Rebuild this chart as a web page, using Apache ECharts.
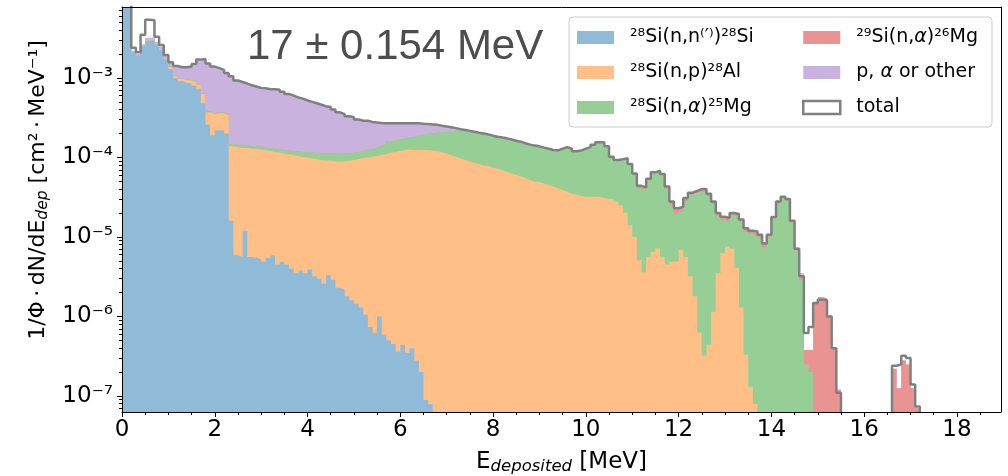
<!DOCTYPE html>
<html>
<head>
<meta charset="utf-8">
<script src="https://cdn.jsdelivr.net/npm/echarts@6/dist/echarts.min.js"></script>
<style>
  html, body { margin: 0; padding: 0; background: #fff; }
  #chart { width: 1008px; height: 476px; }
</style>
</head>
<body>
<div id="chart"></div>
<script>
// histogram bins: 0.1 MeV wide, starting at 0 MeV
const binWidth = 0.1
const nBins = 190
const xMax = 18.95
const yMin = 6.3e-8
const yMax = 7.8e-3
const xTicks = [0, 2, 4, 6, 8, 10, 12, 14, 16, 18]
const yDecades = [-7, -6, -5, -4, -3]

const seriesNames = ['²⁸Si(n,n⁽′⁾)²⁸Si', '²⁸Si(n,p)²⁸Al', '²⁸Si(n,α)²⁵Mg', '²⁹Si(n,α)²⁶Mg', 'p, α or other', 'total']

// 28Si(n,n')28Si, first bin = 0.0 MeV
const inelFrom = 0
const inel = [
  3e-2, 1e-2, 2.1e-3, 1.9e-3, 2.5e-3, 2.95e-3, 3.0e-3, 2.65e-3, 2.25e-3, 1.7e-3,
  1.3e-3, 9.9e-4, 9.1e-4, 8.7e-4, 8.5e-4, 8.0e-4, 7.2e-4, 4.8e-4, 2.6e-4, 1.9e-4,
  2.2e-4, 2.2e-4, 2.0e-4, 1.6e-5, 5.9e-6, 5.6e-6, 1.2e-5, 5.6e-6, 5.5e-6, 5.2e-6,
  4.9e-6, 5.4e-6, 5.9e-6, 4.5e-6, 4.9e-6, 4.5e-6, 4.0e-6, 3.5e-6, 3.8e-6, 3.5e-6,
  3.9e-6, 3.2e-6, 3.0e-6, 2.6e-6, 3.3e-6, 2.9e-6, 2.3e-6, 2.2e-6, 1.8e-6, 1.6e-6,
  1.45e-6, 1.3e-6, 1.05e-6, 7.4e-7, 6.2e-7, 1.0e-6, 5.9e-7, 5.0e-7, 4.5e-7, 3.6e-7,
  4.4e-7, 3.5e-7, 4.0e-7, 2.8e-7, 2.0e-7, 8.9e-8, 7.9e-8
]

// 28Si(n,p)28Al, first bin = 0.4 MeV
const npFrom = 4
const np = [
  5e-5, 1e-4, 1e-4, 8e-5, 6e-5, 5e-5,
  7e-5, 6e-5, 6e-5, 7e-5, 8e-5, 9e-5, 1.0e-4, 1.5e-4, 1.1e-4, 1.6e-4,
  1.4e-4, 1.4e-4, 1.4e-4, 1.22e-4, 1.29e-4, 1.26e-4, 1.2e-4, 1.23e-4, 1.23e-4, 1.21e-4,
  1.18e-4, 1.15e-4, 1.11e-4, 1.1e-4, 1.07e-4, 1.05e-4, 1.03e-4, 1.01e-4, 9.8e-5, 9.6e-5,
  9.4e-5, 9.2e-5, 9.0e-5, 8.9e-5, 8.8e-5, 8.7e-5, 8.7e-5, 8.7e-5, 8.9e-5, 9.1e-5,
  9.4e-5, 9.7e-5, 9.9e-5, 1.01e-4, 1.04e-4, 1.07e-4, 1.1e-4, 1.15e-4, 1.17e-4, 1.2e-4,
  1.23e-4, 1.26e-4, 1.24e-4, 1.24e-4, 1.24e-4, 1.23e-4, 1.22e-4, 1.2e-4, 1.16e-4, 1.12e-4,
  1.07e-4, 1.02e-4, 9.8e-5, 9.3e-5, 8.9e-5, 8.6e-5, 8.3e-5, 7.9e-5, 7.8e-5, 7.4e-5,
  7.2e-5, 6.9e-5, 6.6e-5, 6.3e-5, 6.0e-5, 5.8e-5, 5.5e-5, 5.2e-5, 5.0e-5, 4.9e-5,
  4.7e-5, 4.5e-5, 4.3e-5, 4.1e-5, 3.9e-5, 3.7e-5, 3.5e-5, 3.4e-5, 3.3e-5, 3.2e-5,
  3.2e-5, 3.2e-5, 3.2e-5, 3.1e-5, 3.0e-5, 3.0e-5, 2.8e-5, 2.5e-5, 2.0e-5, 1.4e-5,
  1.0e-5, 5.1e-6, 3.6e-6, 5.6e-6, 6.5e-6, 7.2e-6, 5.6e-6, 4.5e-6, 4.9e-6, 4.9e-6,
  6.9e-6, 5.6e-6, 3.2e-6, 1.8e-6, 6.3e-7, 3.2e-7, 4.4e-7, 1.15e-6, 3.5e-6, 6.3e-6,
  7.6e-6, 7.1e-6, 4.1e-6, 1.3e-6, 3.3e-7, 1.3e-7, 8e-8
]

// 28Si(n,a)25Mg, first bin = 1.0 MeV
const naFrom = 10
const na = [
  1e-5, 1e-5, 1e-5, 1e-5, 1e-5, 1e-5, 1e-5, 1e-5, 1e-5, 1e-5,
  1e-5, 1e-5, 1e-5, 1e-5, 1e-5, 1e-5, 1e-5, 1e-5, 1e-5, 1.05e-5,
  1.1e-5, 1.1e-5, 1.15e-5, 1.2e-5, 1.2e-5, 1.25e-5, 1.3e-5, 1.4e-5, 1.5e-5, 1.7e-5,
  1.8e-5, 1.9e-5, 2.0e-5, 2.1e-5, 2.2e-5, 2.2e-5, 2.2e-5, 2.2e-5, 2.2e-5, 2.2e-5,
  2.2e-5, 2.3e-5, 2.4e-5, 2.6e-5, 2.9e-5, 3.3e-5, 3.8e-5, 4.3e-5, 4.7e-5, 4.8e-5,
  4.9e-5, 5.2e-5, 5.8e-5, 6.4e-5, 7.0e-5, 7.5e-5, 8.0e-5, 8.5e-5, 9.2e-5, 9.8e-5,
  1.08e-4, 1.14e-4, 1.15e-4, 1.18e-4, 1.19e-4, 1.18e-4, 1.16e-4, 1.17e-4, 1.14e-4, 1.11e-4,
  1.08e-4, 1.07e-4, 1.06e-4, 1.03e-4, 1.0e-4, 9.8e-5, 9.4e-5, 9.1e-5, 8.9e-5, 8.8e-5,
  8.5e-5, 8.3e-5, 8.0e-5, 8.1e-5, 8.9e-5, 9.7e-5, 9.3e-5, 8.5e-5, 8.8e-5, 9.6e-5,
  1.02e-4, 1.12e-4, 1.22e-4, 1.23e-4, 1.07e-4, 7.1e-5, 6.4e-5, 6.9e-5, 7.7e-5, 6.8e-5,
  5.2e-5, 3.6e-5, 3.6e-5, 4.6e-5, 5.7e-5, 5.9e-5, 5.5e-5, 3.6e-5, 2.0e-5, 1.45e-5,
  1.4e-5, 2.3e-5, 3.05e-5, 3.4e-5, 3.65e-5, 3.7e-5, 3.2e-5, 2.5e-5, 1.47e-5, 9.9e-6,
  8.0e-6, 1.16e-5, 1.41e-5, 1.4e-5, 1.13e-5, 1.08e-5, 1.05e-5, 9.9e-6, 7.3e-6, 9.9e-6,
  1.7e-5, 2.7e-5, 3.1e-5, 2.9e-5, 1.5e-5, 6.7e-6, 2.9e-6, 2.5e-7, 2.0e-7
]

// 29Si(n,a)26Mg, first bin = 10.0 MeV
const na29From = 100
const na29 = [
  3e-7, 3e-7, 3e-7, 3e-7, 3e-7, 3e-7, 3e-7, 3e-7, 3e-7, 3e-7,
  1e-6, 2.5e-6, 2.5e-6, 2e-6, 1.5e-6, 1.5e-6, 1.5e-6, 2e-6, 3e-6, 3.5e-6,
  3e-6, 2e-6, 2e-6, 2e-6, 2.5e-6, 2.5e-6, 2e-6, 1.5e-6, 1.5e-6, 1.5e-6,
  1.5e-6, 1e-6, 1e-6, 1e-6, 1e-6, 8e-7, 8e-7, 8e-7, 1e-6, 8e-7,
  8e-7, 8e-7, 8e-7, 8e-7, 6e-7, 4e-7, 3e-7, 1.3e-7, 1.8e-7, 1.45e-6,
  1.75e-6, 1.7e-6, 1.0e-6, 4e-7, 1.2e-7, 0, 0, 0, 0, 0,
  0, 0, 0, 0, 0, 0, 2.2e-7, 1.25e-7, 2.8e-7, 2.5e-7,
  1.25e-7, 7e-8
]

// p, alpha or other, first bin = 0.2 MeV
const otherFrom = 2
const other = [
  1e-4, 1e-4, 1e-4, 1.5e-4, 1.5e-4, 1.2e-4, 1.5e-4, 1.5e-4,
  2.0e-4, 3.5e-4, 3.8e-4, 4.1e-4, 4.5e-4, 6.0e-4, 8.7e-4, 1.09e-3, 1.14e-3, 1.03e-3,
  9.6e-4, 8.9e-4, 8.0e-4, 9.0e-4, 7.85e-4, 7.5e-4, 7.1e-4, 6.7e-4, 6.4e-4, 6.1e-4,
  6.05e-4, 5.9e-4, 5.9e-4, 5.8e-4, 5.45e-4, 5.1e-4, 4.8e-4, 4.5e-4, 4.3e-4, 4.0e-4,
  3.85e-4, 3.65e-4, 3.45e-4, 3.3e-4, 3.15e-4, 2.9e-4, 2.6e-4, 2.4e-4, 2.15e-4, 2.05e-4,
  1.85e-4, 1.7e-4, 1.65e-4, 1.5e-4, 1.4e-4, 1.3e-4, 1.2e-4, 1.1e-4, 1.05e-4, 1.0e-4,
  9.8e-5, 9.2e-5, 8.8e-5, 8.2e-5, 7.2e-5, 6.5e-5, 5.8e-5, 5.2e-5, 4.2e-5, 3.5e-5,
  2.5e-5, 1.8e-5, 1.3e-5, 1.0e-5, 8e-6, 6e-6, 5e-6, 4e-6, 3.5e-6, 3e-6,
  2.5e-6, 2.5e-6, 2.5e-6, 2e-6, 2e-6, 2e-6, 2e-6, 2e-6, 1.5e-6, 1.5e-6,
  1e-6, 1e-6, 1e-6, 1e-6, 1e-6, 1e-6, 1e-6, 1e-6, 1e-6, 1e-6,
  1e-6, 1e-6, 1e-6, 1e-6, 1e-6, 1e-6, 1e-6, 1e-6, 1e-6, 1e-6,
  3e-7, 3e-7, 3e-7, 3e-7, 3e-7, 3e-7, 3e-7, 3e-7, 3e-7, 3e-7,
  3e-7, 3e-7, 3e-7, 3e-7, 3e-7, 3e-7, 3e-7, 3e-7, 3e-7, 3e-7,
  3e-7, 3e-7, 3e-7, 3e-7, 3e-7, 3e-7, 3e-7, 3e-7, 3e-7, 3e-7,
  3e-7, 3e-7, 3e-7, 3e-7, 3e-7, 3e-7, 3e-7
]

// total, first bin = 0.0 MeV
const totalFrom = 0
const total = [
  3e-2, 1.0e-2, 2.4e-3, 2.1e-3, 3.5e-3, 5.4e-3, 5.3e-3, 3.3e-3, 2.6e-3, 1.95e-3,
  1.58e-3, 1.41e-3, 1.36e-3, 1.36e-3, 1.39e-3, 1.5e-3, 1.7e-3, 1.73e-3, 1.52e-3, 1.39e-3,
  1.33e-3, 1.26e-3, 1.15e-3, 1.05e-3, 9.3e-4, 8.9e-4, 8.5e-4, 8.1e-4, 7.8e-4, 7.5e-4,
  7.4e-4, 7.2e-4, 7.2e-4, 7.1e-4, 6.7e-4, 6.3e-4, 6.0e-4, 5.7e-4, 5.5e-4, 5.2e-4,
  5.0e-4, 4.8e-4, 4.6e-4, 4.4e-4, 4.3e-4, 4.0e-4, 3.7e-4, 3.5e-4, 3.3e-4, 3.2e-4,
  3.0e-4, 2.9e-4, 2.9e-4, 2.8e-4, 2.75e-4, 2.72e-4, 2.7e-4, 2.7e-4, 2.7e-4, 2.7e-4,
  2.7e-4, 2.7e-4, 2.7e-4, 2.7e-4, 2.66e-4, 2.63e-4, 2.6e-4, 2.57e-4, 2.5e-4, 2.45e-4,
  2.4e-4, 2.34e-4, 2.26e-4, 2.21e-4, 2.16e-4, 2.1e-4, 2.04e-4, 2.0e-4, 1.95e-4, 1.88e-4,
  1.82e-4, 1.78e-4, 1.74e-4, 1.68e-4, 1.62e-4, 1.58e-4, 1.51e-4, 1.45e-4, 1.41e-4, 1.38e-4,
  1.33e-4, 1.29e-4, 1.24e-4, 1.23e-4, 1.29e-4, 1.35e-4, 1.29e-4, 1.2e-4, 1.22e-4, 1.29e-4,
  1.35e-4, 1.45e-4, 1.55e-4, 1.55e-4, 1.38e-4, 1.02e-4, 9.3e-5, 9.5e-5, 9.8e-5, 8.3e-5,
  6.3e-5, 4.4e-5, 4.2e-5, 5.4e-5, 6.5e-5, 6.8e-5, 6.2e-5, 4.3e-5, 2.8e-5, 2.3e-5,
  2.4e-5, 3.1e-5, 3.6e-5, 3.8e-5, 4.0e-5, 4.0e-5, 3.5e-5, 2.8e-5, 2.0e-5, 1.8e-5,
  1.74e-5, 2.0e-5, 1.95e-5, 1.66e-5, 1.29e-5, 1.2e-5, 1.17e-5, 1.07e-5, 8.3e-6, 1.07e-5,
  1.78e-5, 2.8e-5, 3.2e-5, 3.0e-5, 1.6e-5, 7.1e-6, 3.2e-6, 6.2e-7, 7.4e-7, 1.48e-6,
  1.62e-6, 1.6e-6, 1.0e-6, 4e-7, 1.1e-7, 0, 0, 0, 0, 0,
  0, 0, 0, 0, 0, 0, 2.4e-7, 2.5e-7, 3.2e-7, 3.0e-7,
  1.4e-7, 7.4e-8
]

// matplotlib tab colours at alpha 0.5 on white
const fillColors = ['#8fbbd9', '#ffbf86', '#95cf95', '#ea9393', '#c9b3de']
const totalColor = '#808080'
const font = 'DejaVu Sans'

// empty bins can not go on a log axis, push them far below the plot
const belowAxis = 1e-12

function toBins(from, vals) {
  const out = new Array(nBins).fill(0)
  vals.forEach((v, i) => { out[from + i] = v })
  return out
}

// step 'end' draws each bin flat from its left edge to the next one
function stepData(bins) {
  const d = bins.map((v, i) => [+(i * binWidth).toFixed(2), v > 0 ? v : belowAxis])
  d.push([+(bins.length * binWidth).toFixed(2), d[d.length - 1][1]])
  return d
}

const layers = [
  toBins(inelFrom, inel),
  toBins(npFrom, np),
  toBins(naFrom, na),
  toBins(na29From, na29),
  toBins(otherFrom, other)
]

// stacked histogram: each layer is filled up to the running sum of the layers below it
// (echarts' own stack did not behave on the log axis, so the sum is done here)
const stackTops = []
layers.forEach((bins, k) => {
  stackTops.push(bins.map((v, i) => v + (k > 0 ? stackTops[k - 1][i] : 0)))
})

const supDigits = { '-': '⁻', '0': '⁰', '1': '¹', '2': '²', '3': '³', '4': '⁴', '5': '⁵', '6': '⁶', '7': '⁷', '8': '⁸', '9': '⁹' }
function powLabel(e) {
  return '10' + String(e).split('').map(c => supDigits[c]).join('')
}

// minor tick positions
const xMinor = []
for (let v = 0.5; v < xMax; v += 0.5) {
  if (v % 2 !== 0) xMinor.push(v)
}
const yLo = Math.log10(yMin)
const yHi = Math.log10(yMax)
const yMinor = []
for (let e = -8; e <= -3; e++) {
  for (let k = 2; k <= 9; k++) {
    const v = e + Math.log10(k)
    if (v > yLo && v < yHi) yMinor.push(v)
  }
}

const chart = echarts.init(document.getElementById('chart'))

// top layer first so the lower ones are painted over it
const series = []
for (let k = layers.length - 1; k >= 0; k--) {
  series.push({
    name: seriesNames[k],
    type: 'line',
    step: 'end',
    symbol: 'none',
    showSymbol: false,
    silent: true,
    data: stepData(stackTops[k]),
    lineStyle: { width: 0, opacity: 0 },
    itemStyle: { color: fillColors[k] },
    areaStyle: { color: fillColors[k], opacity: 1, origin: 'start' },
    z: 2
  })
}

series.push({
  name: seriesNames[5],
  type: 'line',
  step: 'end',
  symbol: 'none',
  showSymbol: false,
  silent: true,
  data: stepData(toBins(totalFrom, total)),
  lineStyle: { color: totalColor, width: 2.5 },
  itemStyle: { color: totalColor },
  z: 3
})

const legendText = {
  fontFamily: font,
  fontSize: 19,
  color: '#000',
  padding: [0, 0, 0, 11],
  rich: { it: { fontFamily: font, fontSize: 19, fontStyle: 'italic', color: '#000' } }
}
function legendItems(idx) {
  return idx.map(i => i === 5
    ? { name: seriesNames[i], icon: 'rect', itemStyle: { color: '#fff', borderColor: totalColor, borderWidth: 2.5 } }
    : { name: seriesNames[i], icon: 'rect', itemStyle: { color: fillColors[i], borderWidth: 0 } })
}
const legendBase = {
  orient: 'vertical',
  top: 28,
  padding: 0,
  itemWidth: 37,
  itemHeight: 13,
  itemGap: 16,
  selectedMode: false,
  formatter: name => name.replace(/α/g, '{it|α}'),
  textStyle: legendText
}

const frameLine = { show: true, onZero: false, lineStyle: { color: '#000', width: 1 } }

const option = {
  animation: false,
  backgroundColor: '#fff',
  textStyle: { fontFamily: font },
  grid: { left: 122, right: 7, top: 7, bottom: 64, outerBoundsMode: 'none' },
  legend: [
    Object.assign({}, legendBase, { left: 577, data: legendItems([0, 1, 2]) }),
    Object.assign({}, legendBase, { left: 802, data: legendItems([3, 4, 5]) })
  ],
  xAxis: [
    {
      type: 'value', min: 0, max: xMax, position: 'bottom', z: 10,
      axisLine: frameLine,
      axisTick: { show: true, length: 5, customValues: xTicks, lineStyle: { color: '#000' } },
      axisLabel: { customValues: xTicks, fontFamily: font, fontSize: 23, color: '#000', margin: 7 },
      splitLine: { show: false },
      name: 'E{sub|deposited} [MeV]',
      nameLocation: 'middle',
      nameGap: 37,
      nameTextStyle: {
        fontFamily: font, fontSize: 23, color: '#000',
        rich: { sub: { fontFamily: font, fontSize: 16.5, fontStyle: 'italic', color: '#000', padding: [9, 0, 0, 0] } }
      }
    },
    {
      type: 'value', min: 0, max: xMax, position: 'bottom', z: 10,
      axisLine: { show: false },
      axisTick: { show: true, length: 3, customValues: xMinor, lineStyle: { color: '#000' } },
      axisLabel: { show: false },
      splitLine: { show: false }
    },
    {
      type: 'value', min: 0, max: xMax, position: 'top', z: 10,
      axisLine: frameLine,
      axisTick: { show: false },
      axisLabel: { show: false },
      splitLine: { show: false }
    }
  ],
  yAxis: [
    {
      type: 'log', logBase: 10, min: yMin, max: yMax, position: 'left', z: 10,
      axisLine: frameLine,
      axisTick: { show: false },
      axisLabel: {
        fontFamily: font, fontSize: 23, color: '#000', margin: 9,
        showMinLabel: false, showMaxLabel: false,
        formatter: v => {
          const e = Math.log10(v)
          const r = Math.round(e)
          return Math.abs(e - r) > 1e-6 ? '' : powLabel(r)
        }
      },
      splitLine: { show: false }
    },
    {
      type: 'value', min: yLo, max: yHi, position: 'left', z: 10,
      axisLine: { show: false },
      axisTick: { show: true, length: 5, customValues: yDecades, lineStyle: { color: '#000' } },
      axisLabel: { show: false },
      splitLine: { show: false }
    },
    {
      type: 'value', min: yLo, max: yHi, position: 'left', z: 10,
      axisLine: { show: false },
      axisTick: { show: true, length: 3, customValues: yMinor, lineStyle: { color: '#000' } },
      axisLabel: { show: false },
      splitLine: { show: false }
    },
    {
      type: 'value', min: yLo, max: yHi, position: 'right', z: 10,
      axisLine: frameLine,
      axisTick: { show: false },
      axisLabel: { show: false },
      splitLine: { show: false }
    }
  ],
  graphic: [
    {
      type: 'rect', z: 3,
      shape: { x: 569, y: 17, width: 423, height: 110, r: 4 },
      style: { fill: 'rgba(255,255,255,0.8)', stroke: '#cccccc', lineWidth: 1 }
    },
    {
      type: 'text', z: 3, x: 247, y: 47,
      style: {
        text: '17 ± 0.154 MeV', fontFamily: 'Liberation Sans', fontSize: 42,
        fill: '#4d4d4d', align: 'left', verticalAlign: 'middle'
      }
    },
    {
      type: 'text', z: 3, x: 38, y: 190, rotation: Math.PI / 2,
      style: {
        text: '1/Φ\u2009·\u2009dN/dE{sub|dep} [cm²\u2009·\u2009MeV⁻¹]',
        fontFamily: font, fontSize: 22, fill: '#000',
        align: 'center', verticalAlign: 'middle',
        rich: { sub: { fontFamily: font, fontSize: 15.5, fontStyle: 'italic', fill: '#000', padding: [9, 0, 0, 0] } }
      }
    }
  ],
  series: series
}

chart.setOption(option)
</script>
</body>
</html>
